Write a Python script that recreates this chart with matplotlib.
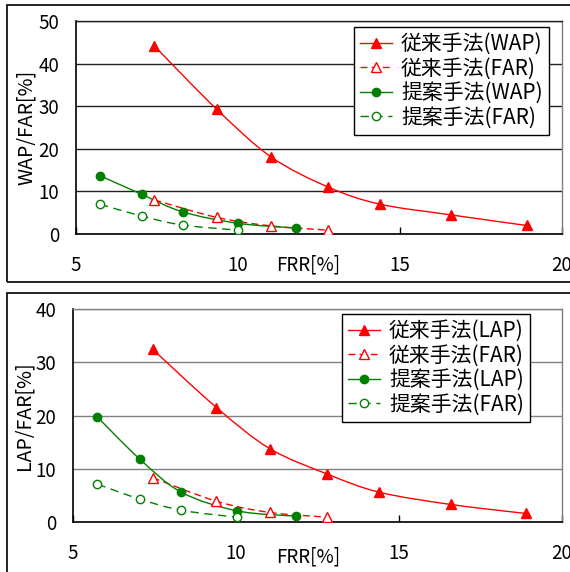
import numpy as np
import matplotlib
matplotlib.use("Agg")
import matplotlib.pyplot as plt
from matplotlib.path import Path
from matplotlib.patches import PathPatch, Rectangle
from matplotlib.lines import Line2D

plt.rcParams['font.family'] = ['Noto Sans CJK JP', 'DejaVu Sans']

# ---- data ----
conv_wap_x = [7.41, 9.34, 11.02, 12.79, 14.38, 16.56, 18.91]
conv_wap_y = [44.2, 29.3, 18.1, 11.0, 7.0, 4.5, 2.0]
conv_far_x = [7.42, 9.34, 11.02, 12.79]
conv_far_y = [8.0, 3.9, 1.9, 0.9]
prop_wap_x = [5.74, 7.03, 8.29, 10.01, 11.80]
prop_wap_y = [13.7, 9.3, 5.2, 2.5, 1.4]
prop_far_x = [5.74, 7.03, 8.29, 10.01]
prop_far_y = [7.0, 4.2, 2.1, 0.9]

conv_lap_x = [7.45, 9.40, 11.03, 12.80, 14.39, 16.58, 18.89]
conv_lap_y = [32.4, 21.5, 13.8, 9.0, 5.6, 3.3, 1.6]
conv_far2_x = [7.45, 9.40, 11.03, 12.80]
conv_far2_y = [8.3, 3.9, 1.8, 0.9]
prop_lap_x = [5.75, 7.05, 8.32, 10.03, 11.83]
prop_lap_y = [19.7, 11.8, 5.6, 2.1, 1.1]
prop_far2_x = [5.75, 7.05, 8.32, 10.03]
prop_far2_y = [7.1, 4.3, 2.2, 0.9]

top_labels = ['従来手法(WAP)', '従来手法(FAR)', '提案手法(WAP)', '提案手法(FAR)']
bot_labels = ['従来手法(LAP)', '従来手法(FAR)', '提案手法(LAP)', '提案手法(FAR)']
x_ticks = [5, 10, 15, 20]
top_yticks = [0, 10, 20, 30, 40, 50]
bot_yticks = [0, 10, 20, 30, 40]

RED = '#FF0000'
GREEN = '#008000'
FS = 13.5
LFS = 15


def smooth_curve(ax, xs, ys, color, ls):
    pts = np.column_stack([xs, ys]).astype(float)
    n = len(pts)
    verts = [pts[0]]
    codes = [Path.MOVETO]
    for i in range(n - 1):
        p0 = pts[i - 1] if i > 0 else pts[i]
        p1 = pts[i]
        p2 = pts[i + 1]
        p3 = pts[i + 2] if i + 2 < n else pts[i + 1]
        c1 = p1 + (p2 - p0) / 6.0
        c2 = p2 - (p3 - p1) / 6.0
        verts += [c1, c2, p2]
        codes += [Path.CURVE4] * 3
    patch = PathPatch(Path(verts, codes), fill=False, edgecolor=color,
                      lw=1.0, linestyle=ls, zorder=3)
    ax.add_patch(patch)


def series(ax, xs, ys, color, ls, marker, filled):
    smooth_curve(ax, xs, ys, color, ls)
    ms = 7.5 if marker == '^' else 6.0
    ax.plot(xs, ys, linestyle='none', marker=marker, markersize=ms,
            markerfacecolor=color if filled else 'white',
            markeredgecolor=color, markeredgewidth=1.0, zorder=4)


def handle(color, ls, marker, filled):
    ms = 7.5 if marker == '^' else 6.0
    return Line2D([], [], color=color, lw=1.0, linestyle=ls, marker=marker,
                  markersize=ms, markerfacecolor=color if filled else 'white',
                  markeredgecolor=color, markeredgewidth=1.0)


def style_axes(ax, ymax, yticks, grid_color):
    ax.set_xlim(5, 20)
    ax.set_ylim(0, ymax)
    ax.set_xticks(x_ticks)
    ax.set_yticks(yticks)
    ax.yaxis.grid(True, color=grid_color, lw=1.0)
    ax.set_axisbelow(True)
    ax.tick_params(axis='x', direction='in', length=5, width=1.0, pad=15,
                   labelsize=FS, top=False)
    ax.tick_params(axis='y', length=0, pad=12, labelsize=FS)
    for s in ['left', 'bottom']:
        ax.spines[s].set_color('black')
        ax.spines[s].set_linewidth(1.2)
    ax.spines['right'].set_color('#808080')
    ax.spines['right'].set_linewidth(1.0)
    ax.spines['top'].set_color(grid_color)
    ax.spines['top'].set_linewidth(1.0)


dash_a = (0, (5, 3))
dash_b = (0, (6, 4))

fig = plt.figure(figsize=(5.70, 5.72), dpi=100)

# outer frames
fig.patches.append(Rectangle((7 / 570, 1 - 282 / 572), 1.2, 277 / 572,
                             transform=fig.transFigure, fill=False,
                             edgecolor='black', lw=1.2, clip_on=False))
fig.patches.append(Rectangle((7 / 570, -0.2), 1.2, (1 - 293 / 572) + 0.2,
                             transform=fig.transFigure, fill=False,
                             edgecolor='black', lw=1.2, clip_on=False))

legend_kw = dict(loc='upper left', borderaxespad=0, fancybox=False,
                 framealpha=1, edgecolor='black', fontsize=LFS,
                 handlelength=1.5, labelspacing=0.12, borderpad=0.3,
                 handletextpad=0.45)

# top chart
ax1 = fig.add_axes([76 / 570, 1 - 234 / 572, 486 / 570, 213 / 572])
style_axes(ax1, 50, top_yticks, '#202020')
series(ax1, conv_wap_x, conv_wap_y, RED, '-', '^', True)
series(ax1, conv_far_x, conv_far_y, RED, dash_a, '^', False)
series(ax1, prop_wap_x, prop_wap_y, GREEN, '-', 'o', True)
series(ax1, prop_far_x, prop_far_y, GREEN, dash_b, 'o', False)
ax1.set_ylabel('WAP/FAR[%]', fontsize=FS + 0.5, labelpad=1)
ax1.text(0.477, -31 / 213, 'FRR[%]', transform=ax1.transAxes,
         ha='center', va='center', fontsize=FS)
h1 = [handle(RED, '-', '^', True), handle(RED, dash_a, '^', False),
      handle(GREEN, '-', 'o', True), handle(GREEN, dash_b, 'o', False)]
leg1 = ax1.legend(h1, top_labels,
                  bbox_to_anchor=((354 - 76) / 486, (234 - 27) / 213),
                  **legend_kw)
leg1.get_frame().set_linewidth(1.0)

# bottom chart
ax2 = fig.add_axes([73 / 570, 1 - 522 / 572, 489 / 570, 213 / 572])
style_axes(ax2, 40, bot_yticks, '#808080')
series(ax2, conv_lap_x, conv_lap_y, RED, '-', '^', True)
series(ax2, conv_far2_x, conv_far2_y, RED, dash_a, '^', False)
series(ax2, prop_lap_x, prop_lap_y, GREEN, '-', 'o', True)
series(ax2, prop_far2_x, prop_far2_y, GREEN, dash_b, 'o', False)
ax2.set_ylabel('LAP/FAR[%]', fontsize=FS + 0.5, labelpad=1)
ax2.text((308 - 73) / 489, -35 / 213, 'FRR[%]', transform=ax2.transAxes,
         ha='center', va='center', fontsize=FS)
h2 = [handle(RED, '-', '^', True), handle(RED, dash_a, '^', False),
      handle(GREEN, '-', 'o', True), handle(GREEN, dash_b, 'o', False)]
leg2 = ax2.legend(h2, bot_labels,
                  bbox_to_anchor=((342 - 73) / 489, (522 - 314) / 213),
                  **legend_kw)
leg2.get_frame().set_linewidth(1.0)

fig.savefig('out.png', dpi=100)
